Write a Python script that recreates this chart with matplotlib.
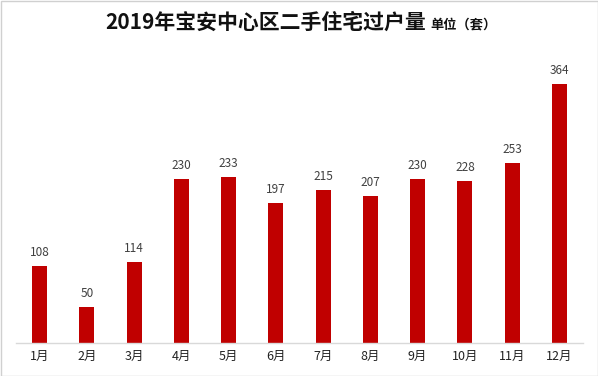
import matplotlib
matplotlib.use("Agg")
import matplotlib.pyplot as plt
from matplotlib.patches import Rectangle

plt.rcParams['font.family'] = ['Noto Sans CJK SC', 'DejaVu Sans']

months = ['1月', '2月', '3月', '4月', '5月', '6月', '7月', '8月', '9月', '10月', '11月', '12月']
values = [108, 50, 114, 230, 233, 197, 215, 207, 230, 228, 253, 364]

fig = plt.figure(figsize=(5.98, 3.76), dpi=100)
ax = fig.add_axes([16/598, 1-343/376, (583-16)/598, 285/376])

x = list(range(len(months)))
bars = ax.bar(x, values, width=0.32, color='#C00000', zorder=2)
for xi, v in zip(x, values):
    ax.annotate(str(v), (xi, v), xytext=(0, 5), textcoords='offset points',
                ha='center', va='bottom', fontsize=8.5, color='#404040')

ax.set_xlim(-0.5, len(months) - 0.5)
ax.set_ylim(0, 400)
ax.set_xticks(x)
ax.set_xticklabels(months, fontsize=9, color='#222222')
ax.tick_params(axis='x', length=0, pad=5)
ax.set_yticks([])
for s in ['top', 'right', 'left']:
    ax.spines[s].set_visible(False)
ax.spines['bottom'].set_color('#D9D9D9')
ax.spines['bottom'].set_linewidth(1)

fig.text(0.445, 1-22/376, '2019年宝安中心区二手住宅过户量', ha='center', va='center',
         fontsize=15, fontweight='bold', color='#111111')
fig.text(430/598, 1-24/376, '单位（套）', ha='left', va='center',
         fontsize=9.5, fontweight='bold', color='#111111')

fig.patches.append(Rectangle((0.5/598, 0.5/376), 597/598, 375/376, transform=fig.transFigure,
                             fill=False, edgecolor='#D0D0D0', linewidth=1))

fig.savefig('out.png', dpi=100)
